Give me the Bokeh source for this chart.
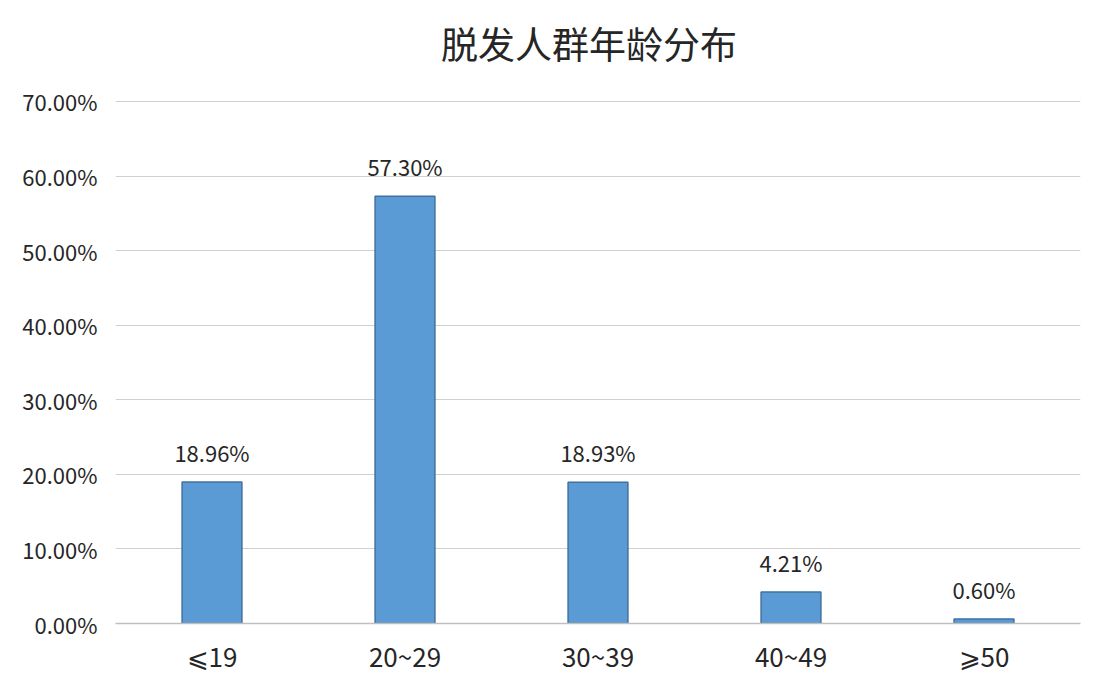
from bokeh.plotting import figure
from bokeh.models import ColumnDataSource, PrintfTickFormatter, FixedTicker, Range1d
from bokeh.embed import file_html
from bokeh.resources import INLINE
from bokeh.core.properties import value

title_text = "脱发人群年龄分布"
categories = ["⩽19", "20~29", "30~39", "40~49", "⩾50"]
values = [18.96, 57.30, 18.93, 4.21, 0.60]
labels = ["18.96%", "57.30%", "18.93%", "4.21%", "0.60%"]
y_ticks = [0, 10, 20, 30, 40, 50, 60, 70]

FONT = "Noto Sans CJK SC"

src = ColumnDataSource(dict(cat=categories, val=values, lab=labels))

# frame spans the full top of the canvas; the upper part (above 70%) holds the title
p = figure(x_range=categories, y_range=Range1d(0, 83.54), width=1100, height=690,
           output_backend="svg", toolbar_location=None,
           min_border_left=115, min_border_right=20, min_border_top=0, min_border_bottom=67)

p.vbar(x="cat", top="val", width=0.31, source=src, fill_color="#5B9BD5",
       line_color="#41719C", line_width=1.5)
p.text(x="cat", y="val", text="lab", source=src, text_align="center",
       text_baseline="middle", y_offset=-30, text_font=value(FONT),
       text_font_size="22px", text_color="#262626")

# chart title
p.text(x=[categories[2]], y=[77.9], text=[title_text], text_align="center",
       text_baseline="middle", x_offset=-9, text_font=value(FONT),
       text_font_size="37px", text_color="#262626")

p.yaxis.ticker = FixedTicker(ticks=y_ticks)
p.yaxis.formatter = PrintfTickFormatter(format="%.2f%%")
p.yaxis.axis_line_color = None
p.yaxis.major_tick_line_color = None
p.yaxis.major_tick_out = 0
p.yaxis.major_tick_in = 0
p.yaxis.minor_tick_line_color = None
p.yaxis.major_label_text_font = FONT
p.yaxis.major_label_text_font_size = "22px"
p.yaxis.major_label_text_color = "#262626"
p.yaxis.major_label_standoff = 18

p.xaxis.axis_line_color = "#BFBFBF"
p.xaxis.axis_line_width = 1.5
p.xaxis.major_tick_line_color = None
p.xaxis.major_tick_out = 0
p.xaxis.major_tick_in = 0
p.xaxis.minor_tick_line_color = None
p.xaxis.major_label_text_font = FONT
p.xaxis.major_label_text_font_size = "26px"
p.xaxis.major_label_text_color = "#262626"
p.xaxis.major_label_standoff = 13

p.xgrid.grid_line_color = None
p.ygrid.grid_line_color = "#D0D0D0"
p.ygrid.grid_line_width = 1.2
p.ygrid.ticker = FixedTicker(ticks=y_ticks)
p.outline_line_color = None
p.x_range.range_padding = 0

open("out.html", "w").write(file_html(p, INLINE))
